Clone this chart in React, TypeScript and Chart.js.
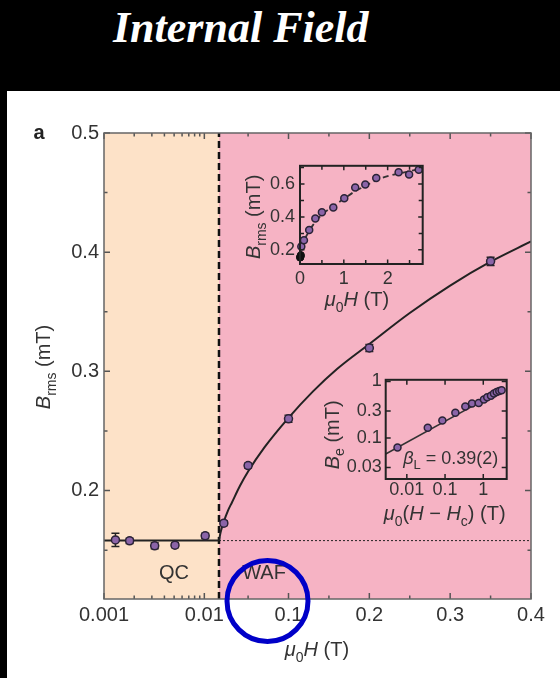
import React, { useEffect, useRef } from "react";
import { Chart, registerables } from "chart.js";
Chart.register(...registerables);

const FONT = '"Liberation Sans", Arial, Helvetica, sans-serif';
const TEXT = "#333333";
const PEACH = "#fde2c8";
const PINK = "#f6b3c4";
const MARK_FILL = "#8b64a8";
const MARK_EDGE = "#2a2236";

// ---------- main panel (a) ----------
const H_MIN = 0.001;
const H_C = 0.014;
const H_MAX = 0.4;
const B_MIN = 0.109;
const B_MAX = 0.5;
const BREAK_FRAC = 0.2693;

const fieldH = [0.0013, 0.0018, 0.0032, 0.0051, 0.0102, 0.02, 0.05, 0.1, 0.2, 0.35];
const brms = [0.1586, 0.1578, 0.1536, 0.1542, 0.162, 0.1726, 0.221, 0.2602, 0.3196, 0.3923];
const brmsErr = [0.0056, 0.0022, 0.0025, 0.002, 0.0022, 0.002, 0.002, 0.003, 0.003, 0.0035];

const qcLevel = 0.158;

const fitH = [0.014, 0.016, 0.02, 0.025, 0.03, 0.04, 0.05, 0.07, 0.1, 0.13, 0.16, 0.2, 0.25, 0.3, 0.35, 0.4];
const fitB = [0.158, 0.165, 0.174, 0.183, 0.19, 0.204, 0.216, 0.236, 0.261, 0.283, 0.302, 0.323, 0.349, 0.372, 0.392, 0.409];

const xMajorTicks = [0.001, 0.01, 0.1, 0.2, 0.3, 0.4];
const xMajorLabels = ["0.001", "0.01", "0.1", "0.2", "0.3", "0.4"];
const xMinorTicks = [0.002, 0.003, 0.004, 0.005, 0.006, 0.007, 0.008, 0.009, 0.05, 0.15, 0.25, 0.35];
const yMajorTicks = [0.2, 0.3, 0.4, 0.5];
const yMinorTicks = [0.15, 0.25, 0.35, 0.45];

// ---------- inset 1: Brms vs field up to high field ----------
const in1H = [0.03, 0.09, 0.21, 0.35, 0.5, 0.76, 1.01, 1.26, 1.49, 1.74, 2.25, 2.49, 2.71];
const in1B = [0.221, 0.258, 0.32, 0.39, 0.429, 0.457, 0.513, 0.579, 0.598, 0.637, 0.672, 0.658, 0.687];
const in1LowH = [0, 0.005, 0.01, 0.015, 0.02];
const in1LowB = [0.153, 0.159, 0.155, 0.162, 0.168];
const in1FitH = [0, 0.05, 0.1, 0.2, 0.3, 0.5, 0.75, 1, 1.25, 1.5, 1.75, 2, 2.5, 2.8];
const in1FitB = [0.158, 0.232, 0.262, 0.31, 0.352, 0.415, 0.464, 0.51, 0.555, 0.59, 0.625, 0.648, 0.678, 0.7];
const in1XMajor = [0, 1, 2];
const in1XMinor = [0.5, 1.5, 2.5];
const in1YMajor = [0.2, 0.4, 0.6];
const in1YMinor = [0.3, 0.5, 0.7];

// ---------- inset 2: Be vs (H - Hc), log-log ----------
const in2H = [0.0057, 0.0353, 0.085, 0.186, 0.339, 0.507, 0.759, 1.04, 1.27, 1.59, 1.9, 2.24, 2.62, 3.02];
const in2B = [0.068, 0.151, 0.204, 0.278, 0.36, 0.405, 0.415, 0.478, 0.525, 0.558, 0.612, 0.652, 0.678, 0.697];
const in2FitH = [0.0028, 3.0];
const in2FitB = [0.052, 0.7];
const in2XTicks = [0.01, 0.1, 1];
const in2XLabels = ["0.01", "0.1", "1"];
const in2YTicks = [0.03, 0.1, 0.3, 1];
const in2YLabels = ["0.03", "0.1", "0.3", "1"];

const tx = (h: number) =>
  h <= H_C
    ? (BREAK_FRAC * Math.log10(h / H_MIN)) / Math.log10(H_C / H_MIN)
    : BREAK_FRAC + ((1 - BREAK_FRAC) * (h - H_C)) / (H_MAX - H_C);

type Part = { t: string; it?: boolean; sub?: boolean; bold?: boolean };

function drawRich(ctx: CanvasRenderingContext2D, parts: Part[], x: number, y: number, size: number, color = TEXT) {
  const fontFor = (p: Part) =>
    `${p.it ? "italic " : ""}${p.bold ? "bold " : ""}${p.sub ? Math.round(size * 0.7) : size}px ${FONT}`;
  let w = 0;
  parts.forEach((p) => {
    ctx.font = fontFor(p);
    w += ctx.measureText(p.t).width;
  });
  let cx = x - w / 2;
  ctx.fillStyle = color;
  ctx.textBaseline = "alphabetic";
  ctx.textAlign = "left";
  parts.forEach((p) => {
    ctx.font = fontFor(p);
    ctx.fillText(p.t, cx, y + (p.sub ? size * 0.28 : 0));
    cx += ctx.measureText(p.t).width;
  });
}

function drawRotated(ctx: CanvasRenderingContext2D, parts: Part[], x: number, y: number, size: number) {
  ctx.save();
  ctx.translate(x, y);
  ctx.rotate(-Math.PI / 2);
  drawRich(ctx, parts, 0, 0, size);
  ctx.restore();
}

function framePlugin(cfg: {
  xMajor: number[]; xMinor: number[]; yMajor: number[]; yMinor: number[];
  majorLen: number; minorLen: number; tickColor: string; frameColor: string; frameWidth: number; tickWidth: number;
}) {
  return {
    id: "frameTicks",
    afterDatasetsDraw(chart: any) {
      const { ctx, chartArea: a, scales } = chart;
      const xs = scales.x, ys = scales.y;
      ctx.save();
      ctx.strokeStyle = cfg.tickColor;
      ctx.lineWidth = cfg.tickWidth;
      ctx.beginPath();
      const vx = (vals: number[], len: number) =>
        vals.forEach((v) => {
          const p = xs.getPixelForValue(v);
          ctx.moveTo(p, a.bottom); ctx.lineTo(p, a.bottom - len);
          ctx.moveTo(p, a.top); ctx.lineTo(p, a.top + len);
        });
      const vy = (vals: number[], len: number) =>
        vals.forEach((v) => {
          const p = ys.getPixelForValue(v);
          ctx.moveTo(a.left, p); ctx.lineTo(a.left + len, p);
          ctx.moveTo(a.right, p); ctx.lineTo(a.right - len, p);
        });
      vx(cfg.xMajor, cfg.majorLen); vx(cfg.xMinor, cfg.minorLen);
      vy(cfg.yMajor, cfg.majorLen); vy(cfg.yMinor, cfg.minorLen);
      ctx.stroke();
      ctx.strokeStyle = cfg.frameColor;
      ctx.lineWidth = cfg.frameWidth;
      ctx.strokeRect(a.left, a.top, a.right - a.left, a.bottom - a.top);
      ctx.restore();
    },
  };
}

const baseScale = (extra: any) => ({
  grid: { display: false, drawTicks: false },
  border: { display: false },
  ...extra,
});

export default function App() {
  const mainRef = useRef<HTMLCanvasElement>(null);
  const in1Ref = useRef<HTMLCanvasElement>(null);
  const in2Ref = useRef<HTMLCanvasElement>(null);

  useEffect(() => {
    const charts: Chart[] = [];

    // ---------------- main chart ----------------
    const mainPlugins = [
      {
        id: "bg",
        beforeDraw(chart: any) {
          const { ctx, chartArea: a, scales } = chart;
          const xb = scales.x.getPixelForValue(tx(H_C));
          ctx.save();
          ctx.fillStyle = PEACH;
          ctx.fillRect(a.left, a.top, xb - a.left, a.bottom - a.top);
          ctx.fillStyle = PINK;
          ctx.fillRect(xb, a.top, a.right - xb, a.bottom - a.top);
          ctx.restore();
        },
        beforeDatasetsDraw(chart: any) {
          const { ctx, scales } = chart;
          ctx.save();
          ctx.strokeStyle = "#222";
          ctx.lineWidth = 1.5;
          ctx.beginPath();
          fieldH.forEach((h, i) => {
            const px = scales.x.getPixelForValue(tx(h));
            const y1 = scales.y.getPixelForValue(brms[i] - brmsErr[i]);
            const y2 = scales.y.getPixelForValue(brms[i] + brmsErr[i]);
            ctx.moveTo(px, y1); ctx.lineTo(px, y2);
            ctx.moveTo(px - 4, y1); ctx.lineTo(px + 4, y1);
            ctx.moveTo(px - 4, y2); ctx.lineTo(px + 4, y2);
          });
          ctx.stroke();
          ctx.restore();
        },
      },
      framePlugin({
        xMajor: xMajorTicks.map(tx), xMinor: xMinorTicks.map(tx),
        yMajor: yMajorTicks, yMinor: yMinorTicks,
        majorLen: 6, minorLen: 3.5, tickColor: "#555", frameColor: "#666", frameWidth: 1.5, tickWidth: 1.5,
      }),
      {
        id: "annot",
        afterDraw(chart: any) {
          const { ctx, chartArea: a } = chart;
          ctx.save();
          drawRich(ctx, [{ t: "a", bold: true }], a.left - 65, a.top + 6, 20, "#222");
          drawRich(ctx, [{ t: "QC" }], a.left + 70, a.bottom - 20, 20);
          drawRich(ctx, [{ t: "WAF" }], a.left + 160, a.bottom - 20, 20);
          drawRotated(ctx, [{ t: "B", it: true }, { t: "rms", sub: true }, { t: " (mT)" }], a.left - 54, (a.top + a.bottom) / 2 + 1, 20);
          drawRich(ctx, [{ t: "μ", it: true }, { t: "0", sub: true }, { t: "H", it: true }, { t: " (T)" }], a.left + 213, a.bottom + 57, 20);
          ctx.beginPath();
          ctx.strokeStyle = "#0000c8";
          ctx.lineWidth = 5;
          ctx.arc(a.left + 163.5, a.bottom + 2, 40.5, 0, Math.PI * 2);
          ctx.stroke();
          ctx.restore();
        },
      },
    ];

    charts.push(
      new Chart(mainRef.current!, {
        type: "scatter",
        data: {
          datasets: [
            {
              label: "Brms",
              data: fieldH.map((h, i) => ({ x: tx(h), y: brms[i] })),
              showLine: false,
              pointRadius: 4,
              pointBackgroundColor: MARK_FILL,
              pointBorderColor: MARK_EDGE,
              pointBorderWidth: 1.5,
              clip: false,
            },
            {
              label: "fit",
              data: fitH.map((h, i) => ({ x: tx(h), y: fitB[i] })),
              showLine: true,
              pointRadius: 0,
              borderColor: "#222",
              borderWidth: 2,
              cubicInterpolationMode: "monotone",
            },
            {
              label: "QC level",
              data: [{ x: tx(H_MIN), y: qcLevel }, { x: tx(H_C), y: qcLevel }],
              showLine: true,
              pointRadius: 0,
              borderColor: "#222",
              borderWidth: 2,
            },
            {
              label: "QC extrapolation",
              data: [{ x: tx(H_C), y: qcLevel }, { x: tx(H_MAX), y: qcLevel }],
              showLine: true,
              pointRadius: 0,
              borderColor: "#222",
              borderWidth: 1,
              borderDash: [2, 2],
            },
            {
              label: "Hc",
              data: [{ x: tx(H_C), y: B_MIN }, { x: tx(H_C), y: B_MAX }],
              showLine: true,
              pointRadius: 0,
              borderColor: "#111",
              borderWidth: 2.5,
              borderDash: [7, 4],
            },
          ] as any,
        },
        options: {
          animation: false,
          responsive: false,
          events: [],
          layout: { padding: { left: 0, top: 133, right: 29, bottom: 39 } },
          plugins: { legend: { display: false }, tooltip: { enabled: false } },
          scales: {
            x: baseScale({
              type: "linear",
              min: 0,
              max: 1,
              afterBuildTicks: (s: any) => { s.ticks = xMajorTicks.map((v) => ({ value: tx(v) })); },
              afterFit: (s: any) => { s.height = 40; },
              ticks: {
                autoSkip: false, maxRotation: 0, padding: 4, color: TEXT,
                font: { family: FONT, size: 20 },
                callback: (_v: any, i: number) => xMajorLabels[i],
              },
            }),
            y: baseScale({
              type: "linear",
              min: B_MIN,
              max: B_MAX,
              afterBuildTicks: (s: any) => { s.ticks = yMajorTicks.map((v) => ({ value: v })); },
              afterFit: (s: any) => { s.width = 104; },
              ticks: {
                autoSkip: false, padding: 5, color: TEXT,
                font: { family: FONT, size: 20 },
                callback: (v: any) => Number(v).toFixed(1),
              },
            }),
          },
        } as any,
        plugins: mainPlugins as any,
      })
    );

    // ---------------- inset 1 ----------------
    charts.push(
      new Chart(in1Ref.current!, {
        type: "scatter",
        data: {
          datasets: [
            {
              label: "low field",
              data: in1LowH.map((h, i) => ({ x: h, y: in1LowB[i] })),
              pointRadius: 3.5, pointBackgroundColor: "#111", pointBorderColor: "#111", pointBorderWidth: 1, clip: false,
            },
            {
              label: "Brms",
              data: in1H.map((h, i) => ({ x: h, y: in1B[i] })),
              pointRadius: 3.5, pointBackgroundColor: MARK_FILL, pointBorderColor: MARK_EDGE, pointBorderWidth: 1.5, clip: false,
            },
            {
              label: "fit",
              data: in1FitH.map((h, i) => ({ x: h, y: in1FitB[i] })),
              showLine: true, pointRadius: 0, borderColor: "#333", borderWidth: 1.8, borderDash: [6, 4],
              cubicInterpolationMode: "monotone",
            },
          ] as any,
        },
        options: {
          animation: false, responsive: false, events: [],
          layout: { padding: { left: 0, top: 11.7, right: 7.3, bottom: 26 } },
          plugins: { legend: { display: false }, tooltip: { enabled: false } },
          scales: {
            x: baseScale({
              type: "linear", min: 0, max: 2.8,
              afterBuildTicks: (s: any) => { s.ticks = in1XMajor.map((v) => ({ value: v })); },
              afterFit: (s: any) => { s.height = 30; },
              ticks: { autoSkip: false, maxRotation: 0, padding: 4, color: TEXT, font: { family: FONT, size: 18 }, callback: (v: any) => String(v) },
            }),
            y: baseScale({
              type: "linear", min: 0.114, max: 0.711,
              afterBuildTicks: (s: any) => { s.ticks = in1YMajor.map((v) => ({ value: v })); },
              afterFit: (s: any) => { s.width = 80; },
              ticks: { autoSkip: false, padding: 5, color: TEXT, font: { family: FONT, size: 18 }, callback: (v: any) => Number(v).toFixed(1) },
            }),
          },
        } as any,
        plugins: [
          framePlugin({
            xMajor: in1XMajor, xMinor: in1XMinor, yMajor: in1YMajor, yMinor: in1YMinor,
            majorLen: 4.5, minorLen: 4, tickColor: "#222", frameColor: "#222", frameWidth: 2, tickWidth: 1.5,
          }),
          {
            id: "in1Titles",
            afterDraw(chart: any) {
              const { ctx, chartArea: a } = chart;
              drawRotated(ctx, [{ t: "B", it: true }, { t: "rms", sub: true }, { t: " (mT)" }], a.left - 40, (a.top + a.bottom) / 2 + 2, 20);
              drawRich(ctx, [{ t: "μ", it: true }, { t: "0", sub: true }, { t: "H", it: true }, { t: " (T)" }], a.left + 57, a.bottom + 42, 20);
            },
          },
        ] as any,
      })
    );

    // ---------------- inset 2 ----------------
    charts.push(
      new Chart(in2Ref.current!, {
        type: "scatter",
        data: {
          datasets: [
            {
              label: "Be",
              data: in2H.map((h, i) => ({ x: h, y: in2B[i] })),
              pointRadius: 3.5, pointBackgroundColor: MARK_FILL, pointBorderColor: MARK_EDGE, pointBorderWidth: 1.5, clip: false,
            },
            {
              label: "power law",
              data: in2FitH.map((h, i) => ({ x: h, y: in2FitB[i] })),
              showLine: true, pointRadius: 0, borderColor: "#333", borderWidth: 1.5,
            },
          ] as any,
        },
        options: {
          animation: false, responsive: false, events: [],
          layout: { padding: { left: 0, top: 10, right: 8.3, bottom: 31 } },
          plugins: { legend: { display: false }, tooltip: { enabled: false } },
          scales: {
            x: baseScale({
              type: "logarithmic", min: 0.0028, max: 4.1,
              afterBuildTicks: (s: any) => { s.ticks = in2XTicks.map((v) => ({ value: v })); },
              afterFit: (s: any) => { s.height = 25; },
              ticks: { autoSkip: false, maxRotation: 0, padding: 0, color: TEXT, font: { family: FONT, size: 18 }, callback: (_v: any, i: number) => in2XLabels[i] },
            }),
            y: baseScale({
              type: "logarithmic", min: 0.0188, max: 1.068,
              afterBuildTicks: (s: any) => { s.ticks = in2YTicks.map((v) => ({ value: v })); },
              afterFit: (s: any) => { s.width = 85.7; },
              ticks: { autoSkip: false, padding: 4, color: TEXT, font: { family: FONT, size: 18 }, callback: (_v: any, i: number) => in2YLabels[i] },
            }),
          },
        } as any,
        plugins: [
          framePlugin({
            xMajor: in2XTicks, xMinor: [], yMajor: in2YTicks, yMinor: [],
            majorLen: 5, minorLen: 3, tickColor: "#222", frameColor: "#222", frameWidth: 2, tickWidth: 1.5,
          }),
          {
            id: "in2Titles",
            afterDraw(chart: any) {
              const { ctx, chartArea: a } = chart;
              drawRotated(ctx, [{ t: "B", it: true }, { t: "e", sub: true }, { t: " (mT)" }], a.left - 47, a.top + 55, 20);
              drawRich(ctx, [{ t: "μ", it: true }, { t: "0", sub: true }, { t: "(" }, { t: "H", it: true }, { t: " − " }, { t: "H", it: true }, { t: "c", sub: true }, { t: ") (T)" }], a.left + 59, a.bottom + 41, 20);
              drawRich(ctx, [{ t: "β", it: true }, { t: "L", sub: true }, { t: " = 0.39(2)" }], a.left + 65, a.bottom - 15, 18);
            },
          },
        ] as any,
      })
    );

    return () => charts.forEach((c) => c.destroy());
  }, []);

  return (
    <div style={{ position: "fixed", left: 0, top: 0, width: 560, height: 678, background: "#000", overflow: "hidden" }}>
      <div style={{ position: "absolute", left: 7, top: 91, right: 0, bottom: 0, background: "#fff" }} />
      <div
        style={{
          position: "absolute", left: 113, top: 6, color: "#fff", whiteSpace: "nowrap",
          font: 'bold italic 44px "Liberation Serif", "Times New Roman", serif', lineHeight: "44px",
        }}
      >
        Internal Field
      </div>
      <canvas ref={mainRef} width={560} height={678} style={{ position: "absolute", left: 0, top: 0, width: 560, height: 678 }} />
      <canvas ref={in1Ref} width={210} height={170} style={{ position: "absolute", left: 220, top: 150, width: 210, height: 170 }} />
      <canvas ref={in2Ref} width={215} height={170} style={{ position: "absolute", left: 300, top: 365, width: 215, height: 170 }} />
    </div>
  );
}
